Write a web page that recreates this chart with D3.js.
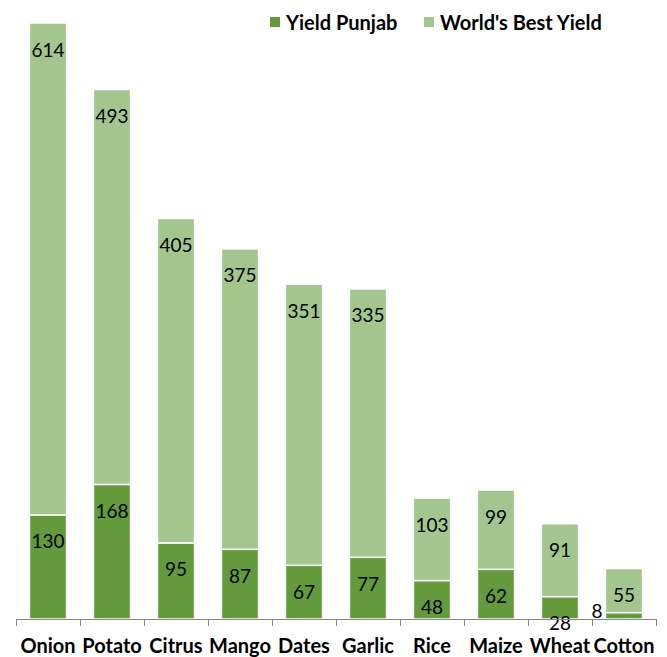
<!DOCTYPE html>
<html><head><meta charset="utf-8">
<script src="https://cdn.jsdelivr.net/npm/d3@7"></script>
<style>body{margin:0;background:#fff}svg{display:block}</style>
</head><body>
<script>
const categories = ["Onion","Potato","Citrus","Mango","Dates","Garlic","Rice","Maize","Wheat","Cotton"];
const yieldPunjab = [130,168,95,87,67,77,48,62,28,8];
const worldBest = [614,493,405,375,351,335,103,99,91,55];
const seriesNames = ["Yield Punjab","World's Best Yield"];
const colors = ["#629a3c","#a3c68f"];

const W = 667, H = 657;
const svg = d3.select("body").append("svg").attr("width", W).attr("height", H);
const font = "Lato, 'Open Sans', sans-serif";

const x = d3.scaleBand().domain(categories).range([16, 656]).paddingInner(0.42).paddingOuter(0.21);
const y = d3.scaleLinear().domain([0, 744]).range([619, 23]);

const rows = categories.map((c,i)=>({cat:c, p:yieldPunjab[i], w:worldBest[i]}));
const stack = d3.stack().keys(["p","w"])(rows);

const g = svg.append("g");
stack.forEach((layer, li) => {
  g.selectAll(null).data(layer).enter().append("rect")
    .attr("x", d => x(d.data.cat))
    .attr("width", x.bandwidth())
    .attr("y", d => y(d[1]))
    .attr("height", d => y(d[0]) - y(d[1]))
    .attr("fill", colors[li])
    .attr("stroke", "#fff").attr("stroke-width", 1.5);
});

// label special offsets
const labelShift = {"Cotton|p": [-27, -28]};
stack.forEach((layer, li) => {
  g.selectAll(null).data(layer).enter().append("text")
    .attr("x", d => x(d.data.cat) + x.bandwidth()/2 + ((labelShift[d.data.cat+"|"+layer.key]||[0,0])[0]))
    .attr("y", d => y(d[1]) + 26 + ((labelShift[d.data.cat+"|"+layer.key]||[0,0])[1]))
    .attr("text-anchor","middle").attr("dominant-baseline","central")
    .attr("font-family", font).attr("font-size", 19).attr("fill","#000")
    .text(d => d.data[layer.key]);
});

// axis
const axis = d3.axisBottom(x).tickSizeOuter(0).tickSize(0);
const ax = svg.append("g").attr("transform","translate(0,619)").call(axis);
ax.select(".domain").attr("stroke","#868686").attr("d","M16,0.5H656");
ax.selectAll(".tick text").attr("font-family", font).attr("font-size", 20).attr("font-weight","bold").attr("fill","#000").attr("dy", "1.55em");
// boundary tick marks
const step = x.step();
svg.append("g").selectAll("line").data(d3.range(categories.length+1)).enter().append("line")
  .attr("x1", i => 16 + i*step + 0.5).attr("x2", i => 16 + i*step + 0.5)
  .attr("y1", 619).attr("y2", 626).attr("stroke","#868686");

// legend
const legX = [270, 424];
seriesNames.forEach((n,i)=>{
  svg.append("rect").attr("x", legX[i]).attr("y", 17).attr("width", 10).attr("height", 10).attr("fill", colors[i]);
  svg.append("text").attr("x", legX[i]+16).attr("y", 22).attr("dominant-baseline","central")
    .attr("font-family", font).attr("font-size", 20).attr("font-weight","bold").text(n);
});
</script>
</body></html>
